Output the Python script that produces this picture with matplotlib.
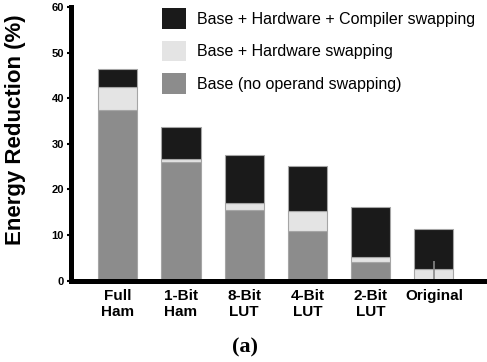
import matplotlib.pyplot as plt
import numpy as np
from matplotlib.patches import Patch

# values
names = ["Full\nHam", "1-Bit\nHam", "8-Bit\nLUT", "4-Bit\nLUT", "2-Bit\nLUT", "Original"]
base = [37.4, 25.9, 15.5, 10.9, 4.1, 0.0]
base_hw = [42.4, 26.6, 17.0, 15.3, 5.2, 2.5]
base_hw_comp = [46.3, 33.6, 27.5, 25.2, 16.2, 11.4]
orig_mark = 4.3  # thin gray line inside the Original bar

plt.rcParams['font.family'] = ['Liberation Sans', 'DejaVu Sans']

fig = plt.figure(figsize=(4.87, 3.62), dpi=100)
ax = fig.add_axes([71 / 487, 1 - 280.6 / 362, 1 - 71 / 487, (280.6 - 7) / 362])

x = np.arange(len(names))
base = np.array(base)
hw = np.array(base_hw) - base
comp = np.array(base_hw_comp) - np.array(base_hw)

c_base, c_hw, c_comp = '#8c8c8c', '#e4e4e4', '#1a1a1a'
edge = '#a5a5a5'
w = 0.62
ax.bar(x, base, w, color=c_base, edgecolor=edge, linewidth=0.8)
ax.bar(x, hw, w, bottom=base, color=c_hw, edgecolor=edge, linewidth=0.8)
ax.bar(x, comp, w, bottom=base + hw, color=c_comp, edgecolor=edge, linewidth=0.8)
ax.vlines(x[-1], 0, orig_mark, color='#888888', linewidth=1.2)

ax.set_xlim(-0.74, 5.84)
ax.set_ylim(0, 60)
ax.set_yticks(range(0, 61, 10))
ax.set_xticks(x)
ax.set_xticklabels(names, fontsize=11, fontweight='bold', linespacing=1.2)
for t in ax.get_yticklabels():
    t.set_fontsize(8)
    t.set_fontweight('bold')
ax.tick_params(axis='x', length=0, pad=6)
ax.tick_params(axis='y', length=3, width=1.5, pad=2)

for s in ['top', 'right']:
    ax.spines[s].set_visible(False)
for s in ['left', 'bottom']:
    ax.spines[s].set_linewidth(3.6)

ax.set_ylabel('Energy Reduction (%)', fontsize=16, fontweight='bold')
ax.yaxis.set_label_coords(-0.108, 0.55)

handles = [Patch(facecolor=c_comp, edgecolor='none'),
           Patch(facecolor=c_hw, edgecolor='none'),
           Patch(facecolor=c_base, edgecolor='none')]
labels = ['Base + Hardware + Compiler swapping',
          'Base + Hardware swapping',
          'Base (no operand swapping)']
ax.legend(handles, labels, loc='upper left', bbox_to_anchor=(162 / 487, 1 - 8 / 362),
          bbox_transform=fig.transFigure, frameon=False, fontsize=11.5,
          handlelength=1.5, handleheight=1.62, labelspacing=0.75,
          handletextpad=0.72, borderpad=0, borderaxespad=0)

fig.text(245 / 487, 1 - 347 / 362, '(a)', ha='center', va='center',
         fontsize=16, fontweight='bold', family=['Liberation Serif'])

fig.savefig('out.png', dpi=100)
